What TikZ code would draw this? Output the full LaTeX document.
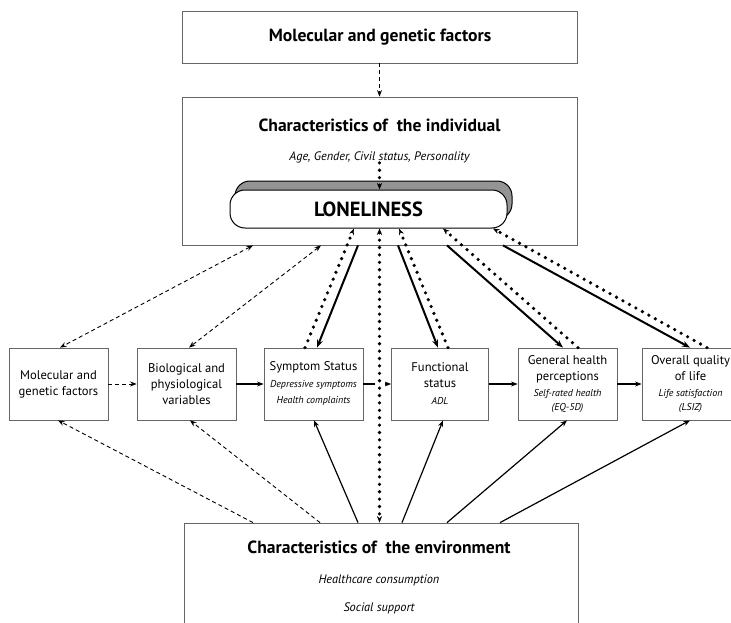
\documentclass[tikz,border=0pt]{standalone}
\usepackage{fontspec}
\setmainfont{PT Sans}
\usetikzlibrary{arrows.meta}
\newcommand\boxfont{\fontsize{12.6}{16}\selectfont}
\newcommand\smallit{\fontsize{10}{13.5}\selectfont\itshape}
\newcommand\headfont{\fontsize{17.6}{21}\selectfont\bfseries}
\newcommand\subit{\fontsize{12.3}{15}\selectfont\itshape}
\begin{document}
\begin{tikzpicture}[x=1pt,y=-1pt,
  box/.style={draw=black!60, line width=0.8pt, fill=white, inner sep=0pt, align=center, font=\boxfont},
  midbox/.style={box, minimum width=99pt, minimum height=72pt},
  lonbox/.style={draw=black, line width=1pt, rounded corners=15pt, minimum width=277pt, minimum height=38pt, inner sep=0pt},
  txt/.style={inner sep=0pt, align=center},
  dsh/.style={line width=0.9pt, dash pattern=on 4pt off 3pt},
  thin/.style={line width=1.2pt},
  thick/.style={line width=2pt},
  dots/.style={line width=3.6pt, dash pattern=on 0pt off 7.4pt, line cap=round},
  stip/.tip={Stealth[length=6.5pt,width=5pt]},
  btip/.tip={Stealth[length=8pt,width=6pt]},
  dtip/.tip={Stealth[length=6.5pt,width=5pt,line width=0.4pt]}
]
\clip (0,0) rectangle (731,623);
\fill[white] (0,0) rectangle (731,623);

% boxes
\node[box, minimum width=395pt, minimum height=52pt] (top) at (379.5,37) {};
\node[txt, font=\headfont] (toptxt) at (380,37) {Molecular and genetic factors};

\node[box, minimum width=395pt, minimum height=148pt] (ind) at (379.5,171) {};
\node[txt, font=\headfont] (indtitle) at (379.5,125) {Characteristics of\ \ the individual};
\node[txt, font=\subit] (indsub) at (379.5,157) {Age, Gender, Civil status, Personality};

\node[lonbox, fill=black!42] (lonsh) at (373.5,200) {};
\node[lonbox, fill=white, font=\fontsize{20.5}{24}\selectfont\bfseries] (lon) at (368.5,209) {LONELINESS};

\node[midbox] (b1) at (58.5,384) {Molecular and\\genetic factors};
\node[midbox] (b2) at (186.5,384) {Biological and\\physiological\\variables};
\node[midbox] (b3) at (313.5,384) {Symptom Status\\[1pt]{\smallit Depressive symptoms}\\{\smallit Health complaints}};
\node[midbox, minimum width=97pt] (b4) at (440,384) {Functional\\status\\[1pt]{\smallit ADL}};
\node[midbox] (b5) at (567.5,384) {General health\\perceptions\\[0pt]{\smallit Self-rated health}\\[-2pt]{\smallit (EQ-5D)}};
\node[midbox, minimum width=97pt] (b6) at (690.5,384) {Overall quality\\of life\\[0pt]{\smallit Life satisfaction}\\[-2pt]{\smallit (LSIZ)}};

\node[box, minimum width=394pt, minimum height=120pt] (env) at (381,583) {};
\node[txt, font=\headfont] (envtitle) at (379,547) {Characteristics of\ \ the environment};
\node[txt, font=\subit] (envl1) at (379,580) {Healthcare consumption};
\node[txt, font=\subit] (envl2) at (379,608) {Social support};

% top to individual
\draw[dsh, -stip] (top.south) -- (ind.north);
\draw[dots, -dtip] (indsub.south) -- (indsub.south |- lon.north);

% individual <-> left boxes
\draw[dsh, stip-stip] ([xshift=-126.5pt]ind.south) -- ([xshift=1.5pt]b1.north);
\draw[dsh, stip-stip] ([xshift=-58.5pt]ind.south) -- ([xshift=2.5pt]b2.north);

% thick solid from individual
\draw[thick, -btip] ([xshift=-21.5pt]ind.south) -- ([xshift=3.5pt]b3.north);
\draw[thick, -btip] ([xshift=18.5pt]ind.south) -- ([xshift=-2pt]b4.north);
\draw[thick, -btip] ([xshift=67.5pt]ind.south) -- ([xshift=-4.5pt]b5.north);
\draw[thick, -btip] ([xshift=123.5pt]ind.south) -- ([xshift=-0.5pt]b6.north);

% dotted to loneliness
\draw[dots, -dtip] ([xshift=-8.5pt]b3.north) -- ([xshift=-14.5pt]lon.south);
\draw[dots, -dtip] ([xshift=8pt]b4.north) -- ([xshift=30.5pt]lon.south);
\draw[dots, -dtip] ([xshift=10.5pt]b5.north) -- ([xshift=74.5pt]lon.south);
\draw[dots, -dtip] ([xshift=16.5pt]b6.north) -- ([xshift=124.5pt]lon.south);

% horizontal
\draw[dsh, -stip] (b1.east) -- (b2.west);
\draw[thin, -stip] (b2.east) -- (b3.west);
\draw[thin, -stip] (b3.east) -- (b4.west);
\draw[thin, -stip] (b4.east) -- (b5.west);
\draw[thin, -stip] (b5.east) -- (b6.west);

% central dotted
\coordinate (cross) at (indsub.south |- b3.east);
\fill[white] ([shift={(-5pt,-4pt)}]cross) rectangle ([shift={(5pt,4pt)}]cross);
\draw[dots, dtip-dtip] (indsub.south |- lon.south) -- (indsub.south |- env.north);

% environment
\draw[dsh, -stip] ([xshift=-128pt]env.north) -- ([xshift=-0.5pt]b1.south);
\draw[dsh, -stip] ([xshift=-61pt]env.north) -- ([xshift=3.5pt]b2.south);
\draw[thin, -stip] ([xshift=-23pt]env.north) -- ([xshift=0.5pt]b3.south);
\draw[thin, -stip] ([xshift=21pt]env.north) -- ([xshift=3pt]b4.south);
\draw[thin, -stip] ([xshift=66pt]env.north) -- ([xshift=-0.5pt]b5.south);
\draw[thin, -stip] ([xshift=119pt]env.north) -- ([xshift=-0.5pt]b6.south);
\end{tikzpicture}
\end{document}
